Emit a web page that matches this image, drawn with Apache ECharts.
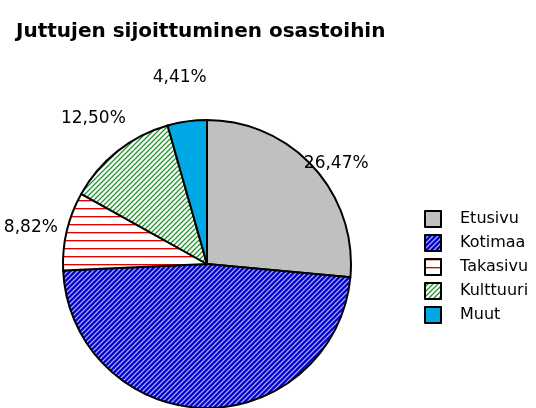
<!DOCTYPE html>
<html><head><meta charset="utf-8">
<script src="https://cdn.jsdelivr.net/npm/echarts@6/dist/echarts.min.js"></script>
<style>html,body{margin:0;padding:0;background:#fff}#c{width:536px;height:408px}</style>
</head><body><div id="c"></div>
<script>
const categories = ['Etusivu','Kotimaa','Takasivu','Kulttuuri','Muut'];
const values = [26.47, 47.80, 8.82, 12.50, 4.41];
const labels = ['26,47%','47,80%','8,82%','12,50%','4,41%'];

function tile(n,draw){const c=document.createElement('canvas');c.width=n;c.height=n;const g=c.getContext('2d');draw(g,n);return c;}
function diag(n,cols){return tile(n,(g)=>{for(let y=0;y<n;y++)for(let x=0;x<n;x++){g.fillStyle=cols[(x+y)%n];g.fillRect(x,y,1,1);}});}
const blueTile = diag(5,['#0000c8','#0000c8','#4040e0','#b0b0ff','#4040e0']);
const greenTile = diag(5,['#ffffff','#ffffff','#9fd69f','#1f8f2f','#9fd69f']);
const redTile = (()=>{const c=document.createElement('canvas');c.width=4;c.height=8;const g=c.getContext('2d');g.fillStyle='#fff';g.fillRect(0,0,4,8);g.fillStyle='#e00000';g.fillRect(0,0,4,1);g.fillStyle='#f4a8a8';g.fillRect(0,1,4,1);return c;})();
const fills = ['#c0c0c0',{image:blueTile,repeat:'repeat'},{image:redTile,repeat:'repeat'},{image:greenTile,repeat:'repeat'},'#00a8e6'];

const CX=207, CY=264, R=144, LABEL_R=183;
const nudge = [[-6,23],[0,0],[2,6],[0,-2],[-2,-5]];
const total = values.reduce((a,b)=>a+b,0);
const mids = []; {let acc=0; values.forEach(v=>{mids.push((acc+v/2)/total*2*Math.PI); acc+=v;});}

const chart = echarts.init(document.getElementById('c'));
chart.setOption({
  animation:false,
  title:{text:'Juttujen sijoittuminen osastoihin',left:11,top:17,textStyle:{fontFamily:'DejaVu Sans',fontWeight:'bold',fontSize:20,color:'#000'}},
  legend:{orient:'vertical',left:424,top:210,padding:0,itemWidth:16,itemHeight:16,itemGap:6,icon:'rect',
    textStyle:{fontFamily:'DejaVu Sans',fontSize:16,lineHeight:16,color:'#000',padding:[0,0,0,14]},data:categories},
  series:[{type:'pie',center:[CX,CY],radius:R,startAngle:90,clockwise:true,
    itemStyle:{borderColor:'#000',borderWidth:2},
    label:{show:true,position:'outside',fontFamily:'DejaVu Sans',fontSize:17,color:'#000',overflow:'none',
      formatter:p=>labels[p.dataIndex]},
    labelLine:{show:false},
    labelLayout:p=>{const a=mids[p.dataIndex];return {x:CX+LABEL_R*Math.sin(a)+nudge[p.dataIndex][0],y:CY-LABEL_R*Math.cos(a)+nudge[p.dataIndex][1],align:'center',verticalAlign:'middle',hideOverlap:false};},
    emphasis:{disabled:true},
    data:categories.map((n,i)=>({name:n,value:values[i],itemStyle:{color:fills[i]},label:i===1?{show:false}:undefined}))
  }]
});
</script></body></html>
